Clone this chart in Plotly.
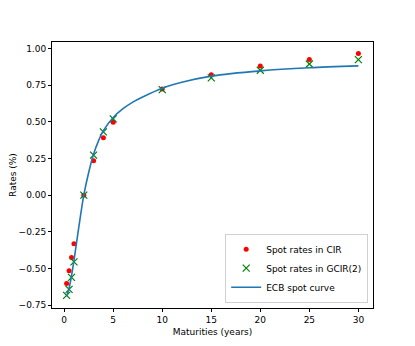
import plotly.graph_objects as go

maturities = [0.25, 0.5, 0.75, 1, 2, 3, 4, 5, 10, 15, 20, 25, 30]
cir_rates = [-0.602, -0.516, -0.425, -0.332, 0.0, 0.234, 0.391, 0.497, 0.725, 0.822, 0.881, 0.925, 0.966]
gcir_rates = [-0.684, -0.643, -0.561, -0.455, 0.0, 0.273, 0.432, 0.52, 0.72, 0.80, 0.852, 0.895, 0.925]

ecb_t = [0.25, 0.5, 0.75, 1, 1.5, 2, 2.5, 3, 3.5, 4, 5, 6, 7, 8, 10, 12, 15, 20, 25, 30]
ecb_rates = [-0.69, -0.635, -0.55, -0.445, -0.215, 0.0, 0.155, 0.28, 0.37, 0.44, 0.53, 0.59, 0.635, 0.67, 0.73, 0.77, 0.812, 0.848, 0.869, 0.882]

font = dict(family="DejaVu Sans", size=9, color="black")

fig = go.Figure()
fig.add_trace(go.Scatter(x=maturities, y=cir_rates, mode="markers", name="Spot rates in CIR",
                         marker=dict(color="red", size=5, line=dict(width=0))))
fig.add_trace(go.Scatter(x=maturities, y=gcir_rates, mode="markers", name="Spot rates in GCIR(2)",
                         marker=dict(symbol="x-thin", color="green", size=7, line=dict(color="green", width=1.2))))
fig.add_trace(go.Scatter(x=ecb_t, y=ecb_rates, mode="lines", name="ECB spot curve",
                         line=dict(color="#1f77b4", width=1.6, shape="spline", smoothing=0.8)))

axis_common = dict(showgrid=False, zeroline=False, showline=True, linecolor="black", linewidth=1,
                   mirror=True, ticks="outside", ticklen=3, tickwidth=0.8, tickcolor="black",
                   tickfont=font, automargin=False)

fig.update_layout(
    width=415, height=346,
    margin=dict(l=44, r=50, t=34, b=46),
    paper_bgcolor="white", plot_bgcolor="white",
    font=font,
    showlegend=True,
    legend=dict(x=0.985, y=0.02, xanchor="right", yanchor="bottom",
                bgcolor="rgba(255,255,255,0.8)", bordercolor="#d0d0d0", borderwidth=1,
                font=font, tracegroupgap=0, itemwidth=30),
    xaxis=dict(range=[-1.24, 31.49], tickvals=[0, 5, 10, 15, 20, 25, 30],
               title=dict(text="Maturities (years)", font=font, standoff=4), **axis_common),
    yaxis=dict(range=[-0.77, 1.045], tickvals=[-0.75, -0.5, -0.25, 0, 0.25, 0.5, 0.75, 1.0],
               tickformat=".2f",
               title=dict(text="Rates (%)", font=font, standoff=9), **axis_common),
)

fig.write_html("out.html")
